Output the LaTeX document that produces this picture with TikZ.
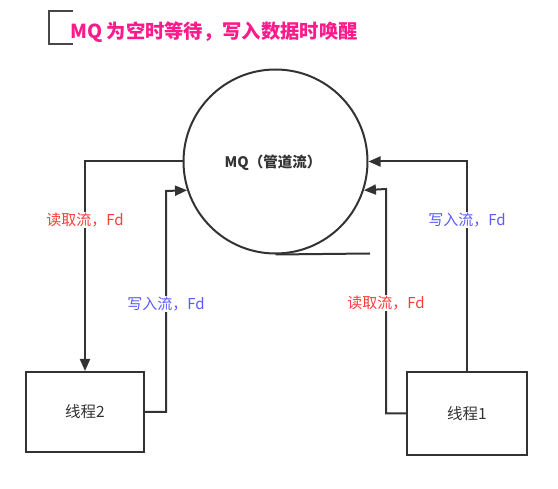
\documentclass[tikz,border=0pt]{standalone}
\usepackage{fontspec}
\setmainfont{Noto Sans CJK SC}
\newfontfamily\cjk{Noto Sans CJK SC}
\usetikzlibrary{arrows.meta}
\definecolor{linec}{HTML}{333333}
\definecolor{titlec}{HTML}{FF1A8C}
\definecolor{readc}{HTML}{FF3B3B}
\definecolor{writec}{HTML}{5A5AFF}
\tikzset{
  conn/.style={draw=linec, line width=2pt},
  arr/.style={conn, -{Triangle[length=12pt,width=10pt]}},
  boxst/.style={draw=linec, line width=2pt, rectangle, inner sep=0pt, font=\cjk\fontsize{15.5}{17}\selectfont, text=linec},
  lbl/.style={fill=white, inner sep=1pt, font=\cjk\fontsize{15}{17}\selectfont},
}
\begin{document}
\begin{tikzpicture}[x=1pt,y=-1pt]
\useasboundingbox (0,0) rectangle (558,489);
% title
\draw[draw=linec!90, line width=2.4pt] (73,11) -- (49,11) -- (49,44) -- (73,44);
\node[anchor=west, inner sep=0pt, text=titlec, font=\cjk\bfseries\fontsize{19.3}{21}\selectfont] (title) at (70,32) {MQ 为空时等待，写入数据时唤醒};
% MQ circle
\node[circle, draw=linec, line width=2pt, minimum size=184pt, inner sep=0pt] (mq) at (275.5,161.5) {};
\node[font=\cjk\bfseries\fontsize{14.5}{16}\selectfont, text=linec] (mqlbl) at (273,163) {MQ（管道流）};
\coordinate (tailend) at (370,253.5);
\draw[conn] (mq.south) -- (tailend);
% boxes
\node[boxst, minimum width=118pt, minimum height=80pt] (t2) at (85,412) {线程2};
\node[boxst, minimum width=120pt, minimum height=83pt] (t1) at (467,413.5) {线程1};
% left connectors
\draw[arr] (mq.west) -| (t2.north);
\coordinate (w2) at (166,191);
\draw[arr] (t2.east) -| (w2) -- (mq.198.7);
% right connectors
\draw[arr] (t1.north) |- (mq.east);
\coordinate (r1) at (386,189);
\draw[arr] (t1.west) -| (r1) -- (mq.342.6);
% labels
\node[lbl, text=readc] (l1) at (85,220) {读取流，Fd};
\node[lbl, text=writec] (l2) at (166,304) {写入流，Fd};
\node[lbl, text=writec] (l3) at (467,220) {写入流，Fd};
\node[lbl, text=readc] (l4) at (386,303) {读取流，Fd};
\end{tikzpicture}
\end{document}
